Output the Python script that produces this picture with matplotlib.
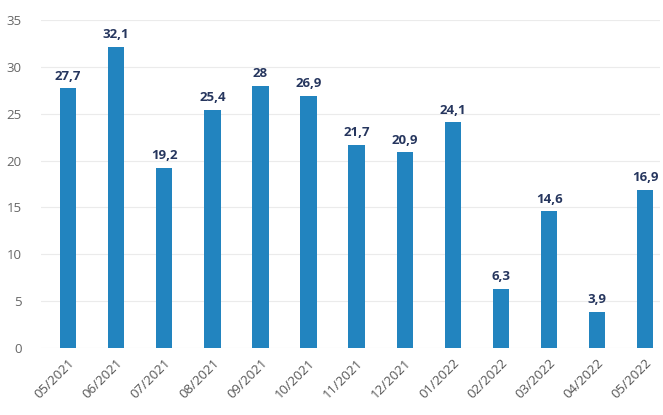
import matplotlib
matplotlib.use("Agg")
import matplotlib.pyplot as plt

categories = ["05/2021", "06/2021", "07/2021", "08/2021", "09/2021", "10/2021", "11/2021",
              "12/2021", "01/2022", "02/2022", "03/2022", "04/2022", "05/2022"]
values = [27.7, 32.1, 19.2, 25.4, 28, 26.9, 21.7, 20.9, 24.1, 6.3, 14.6, 3.9, 16.9]
yticks = [0, 5, 10, 15, 20, 25, 30, 35]

plt.rcParams['font.family'] = ['Open Sans', 'DejaVu Sans']

fig = plt.figure(figsize=(6.63, 4.15), dpi=100)
ax = fig.add_axes([0.062, 0.161, 0.933, 0.791])

x = list(range(len(categories)))
bars = ax.bar(x, values, width=0.34, color="#2284BF", zorder=3)
for xi, v in zip(x, values):
    lbl = (("%g" % v).replace(".", ","))
    ax.text(xi, v + 0.6, lbl, ha="center", va="bottom", fontsize=9.5,
            fontweight="bold", color="#26365E", zorder=4)

ax.set_ylim(0, 35)
ax.set_xlim(-0.56, 12.3)
ax.set_yticks(yticks)
ax.set_yticklabels([str(t) for t in yticks], fontsize=9.5, color="#666666")
ax.set_xticks(x)
ax.set_xticklabels(categories, rotation=45, ha="right", rotation_mode="anchor",
                   fontsize=9.5, color="#555555")
ax.grid(axis="y", color="#EBEBEB", linewidth=0.8, zorder=0)
for s in ax.spines.values():
    s.set_visible(False)
ax.tick_params(axis="both", length=0)
ax.tick_params(axis="y", pad=14)
ax.tick_params(axis="x", pad=6)

fig.savefig("out.png", dpi=100)
